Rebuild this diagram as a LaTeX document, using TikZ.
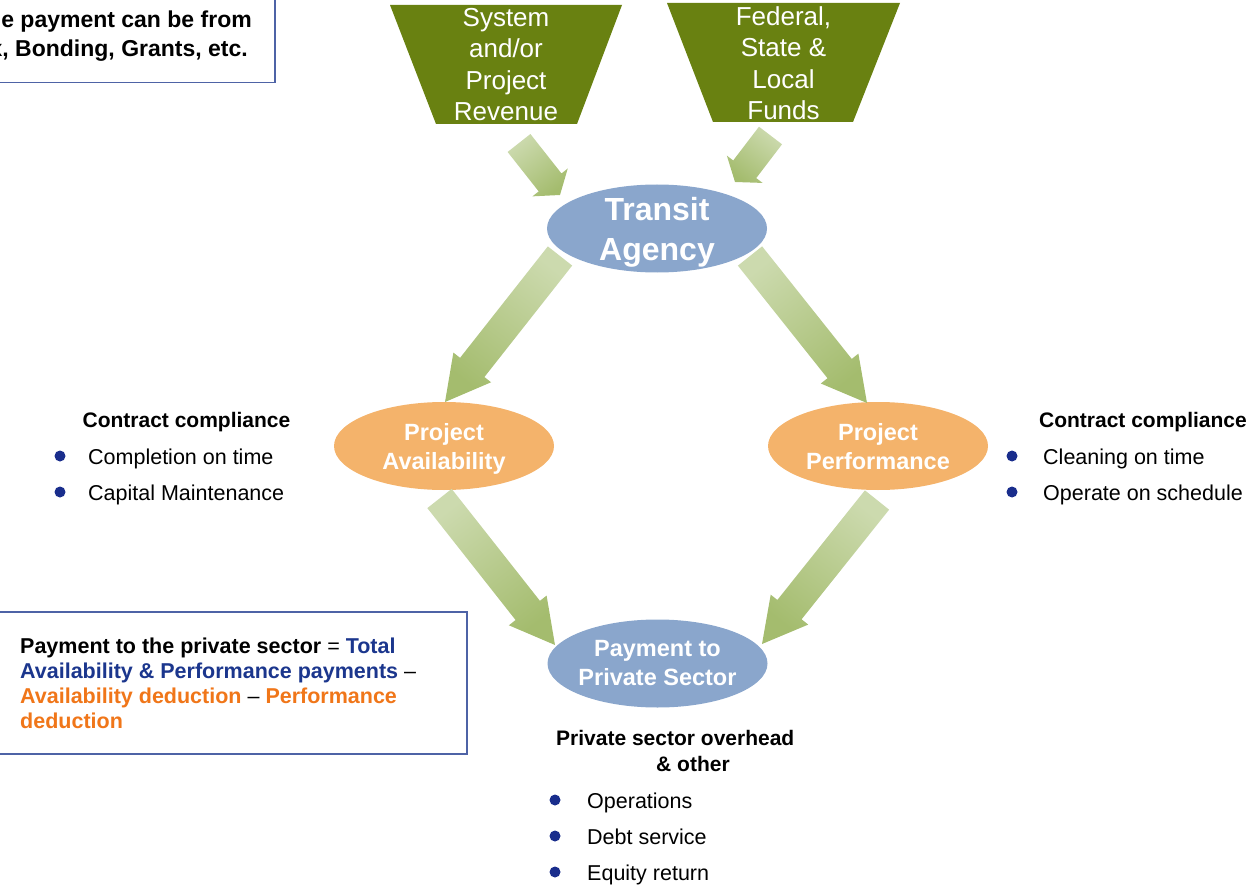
\documentclass[tikz,border=0pt]{standalone}
\usepackage{fontspec}
\setmainfont{Liberation Sans}
\usetikzlibrary{shapes.geometric,calc}

\definecolor{olivesrc}{RGB}{105,129,17}
\definecolor{bubbleblue}{RGB}{138,166,204}
\definecolor{bubbleorange}{RGB}{244,179,107}
\definecolor{arrowlight}{RGB}{204,218,174}
\definecolor{arrowdark}{RGB}{164,188,110}
\definecolor{navy}{RGB}{27,54,141}
\definecolor{dotnavy}{RGB}{25,45,140}
\definecolor{deductorange}{RGB}{240,118,25}
\definecolor{boxblue}{RGB}{78,99,166}

% Block arrow from a tail coordinate to a tip coordinate:
% #3 shaft half width, #4 head half width, #5 head length
\newcommand\flowarrow[5]{%
  \pgfpointanchor{#1}{center}\pgfgetlastxy\faX\faY
  \pgfpointanchor{#2}{center}\pgfgetlastxy\faXb\faYb
  \pgfmathsetmacro\faAngle{atan2((\faYb)-(\faY),(\faXb)-(\faX))}%
  \pgfmathsetmacro\faLength{veclen((\faXb)-(\faX),(\faYb)-(\faY))}%
  \pgfmathsetmacro\faShade{\faAngle+90}%
  \shade[flowshade, shading angle=\faShade, shift={(#1)}, rotate=\faAngle]
    (0,#3) -- ({\faLength-#5},#3) -- ({\faLength-#5},#4) -- (\faLength,0)
    -- ({\faLength-#5},-#4) -- ({\faLength-#5},-#3) -- (0,-#3) -- cycle;
}

\begin{document}
\begin{tikzpicture}[x=1pt,y=-1pt,
  bubble/.style={ellipse, minimum width=220pt, minimum height=88pt, inner sep=0pt},
  bubtext/.style={text=white, font=\fontsize{23.5}{29}\selectfont\bfseries, align=center, inner sep=0pt, anchor=north},
  bigbubtext/.style={text=white, font=\fontsize{32}{40}\selectfont\bfseries, align=center, inner sep=0pt, anchor=north},
  srctext/.style={text=white, font=\fontsize{26}{31.5}\selectfont, align=center, inner sep=0pt, anchor=north},
  heading/.style={font=\fontsize{21}{26}\selectfont\bfseries, inner sep=0pt},
  item/.style={font=\fontsize{21.5}{26}\selectfont, inner sep=0pt, anchor=base west},
  listdot/.style={circle, fill=dotnavy, minimum size=11pt, inner sep=0pt},
  boxline/.style={draw=boxblue, line width=1.5pt},
  flowshade/.style={top color=arrowlight, bottom color=arrowdark},
]
\useasboundingbox (0,0) rectangle (1252,885);
\clip (0,0) rectangle (1252,885);

% funding sources
\fill[olivesrc] (390,5) -- (622,5) -- (577,124) -- (436,124) -- cycle;
\fill[olivesrc] (667,3) -- (900,3) -- (853,122) -- (713,122) -- cycle;
\node[srctext] (rev) at (506,8) {System\\and/or\\Project\\Revenue};
\node[srctext] (funds) at (783.5,6) {Federal,\\State \&\\Local\\Funds};

% bubbles
\node[bubble, fill=bubbleblue] (ta) at (657,228.5) {};
\node[bigbubtext] (taText) at (657,197.5) {Transit\\Agency};
\node[bubble, fill=bubbleorange] (pa) at (444,446) {};
\node[bubtext] (paText) at (444,423.2) {Project\\Availability};
\node[bubble, fill=bubbleorange] (pp) at (878,446) {};
\node[bubtext] (ppText) at (878,423.2) {Project\\Performance};
\node[bubble, fill=bubbleblue] (pay) at (657.5,663.5) {};
\node[bubtext] (payText) at (657.5,640.2) {Payment to\\Private Sector};

% arrow end points
\coordinate (revOut) at (519,143);   \coordinate (taInL) at (560,195);
\coordinate (fundsOut) at (770.5,135.5); \coordinate (taInR) at (735,182);
\coordinate (taOutL) at (560,256);   \coordinate (paIn) at (445,402);
\coordinate (taOutR) at (750,256);   \coordinate (ppIn) at (867,403);
\coordinate (paOut) at (439.5,498.5); \coordinate (payInL) at (555,645);
\coordinate (ppOut) at (877,500);    \coordinate (payInR) at (762,644);

\flowarrow{revOut}{taInL}{14.5}{22.5}{16}
\flowarrow{fundsOut}{taInR}{14.5}{22.5}{16}
\flowarrow{taOutL}{paIn}{15.5}{24}{44}
\flowarrow{taOutR}{ppIn}{15.5}{24}{44}
\flowarrow{paOut}{payInL}{15.5}{24}{44}
\flowarrow{ppOut}{payInR}{15.5}{24}{44}

% contract compliance lists
\node[heading, anchor=base] (ccL) at (186.5,427.5) {Contract compliance};
\node[listdot] (dL1) at (60,456) {};
\node[item] (iL1) at (88,464) {Completion on time};
\node[listdot] (dL2) at (60,492) {};
\node[item] (iL2) at (88,500) {Capital Maintenance};

\node[heading, anchor=base] (ccR) at (1143,427.5) {Contract compliance};
\node[listdot] (dR1) at (1012,456) {};
\node[item] (iR1) at (1043,464) {Cleaning on time};
\node[listdot] (dR2) at (1012,492) {};
\node[item] (iR2) at (1043,500) {Operate on schedule};

% private sector list
\node[heading, anchor=base west] (psH1) at (556,745.5) {Private sector overhead};
\node[heading, anchor=base west] (psH2) at (656,771.5) {\& other};
\node[listdot] (dB1) at (555,800) {};
\node[item] (iB1) at (587,808) {Operations};
\node[listdot] (dB2) at (555,836) {};
\node[item] (iB2) at (587,844) {Debt service};
\node[listdot] (dB3) at (555,872) {};
\node[item] (iB3) at (587,880) {Equity return};

% note on payment sources
\draw[boxline] (-10,-10) rectangle (275,82.5);
\node[font=\fontsize{23}{29.5}\selectfont\bfseries, align=right, inner sep=0pt, anchor=north east]
  (srcNote) at (252,10.2) {The payment can be from\\Tax, Bonding, Grants, etc.\hspace*{4pt}};

% payment formula
\draw[boxline] (-10,612) rectangle (467,754);
\node[font=\fontsize{21.5}{25.3}\selectfont\bfseries, align=left, inner sep=0pt, anchor=north west]
  (formula) at (20,637.3) {Payment to the private sector {\mdseries =} \textcolor{navy}{Total}\\
  \textcolor{navy}{Availability \& Performance payments} {\mdseries –}\\
  \textcolor{deductorange}{Availability deduction} {\mdseries –} \textcolor{deductorange}{Performance}\\
  \textcolor{deductorange}{deduction}};
\end{tikzpicture}
\end{document}
